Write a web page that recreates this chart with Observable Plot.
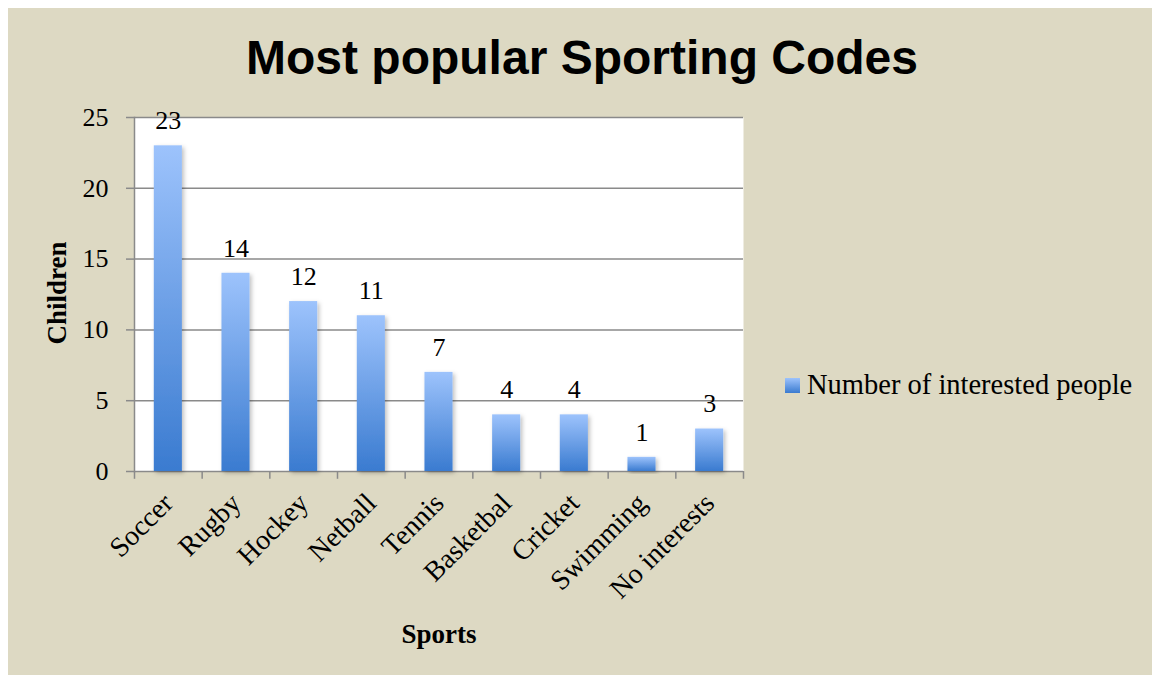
<!DOCTYPE html>
<html>
<head>
<meta charset="utf-8">
<script src="https://cdn.jsdelivr.net/npm/d3@7"></script>
<script src="https://cdn.jsdelivr.net/npm/@observablehq/plot@0.6"></script>
<style>
  html, body { margin: 0; padding: 0; background: #ffffff; }
  #chart { position: absolute; left: 8px; top: 8px; width: 1144px; height: 667px; background: #ddd9c3; overflow: hidden; }
  #title { font-family: "Liberation Sans", Arial, sans-serif; font-weight: bold; font-size: 48px; line-height: 48px; height: 48px; padding-top: 26px; text-align: center; width: 1144px; padding-left: 2px; box-sizing: content-box; margin-left: 0; color: #000; }
  #plot svg { display: block; }
  .axlabel { position: absolute; font-family: "Liberation Serif", "Times New Roman", serif; font-weight: bold; font-size: 27px; color: #000; white-space: nowrap; }
  #ylab { left: 49px; top: 285px; transform: translate(-50%, -50%) rotate(-90deg); }
  #xlab { left: 431px; top: 611px; transform: translateX(-50%); }
  #legend { position: absolute; left: 777px; top: 361px; display: flex; align-items: center; font-family: "Liberation Serif", "Times New Roman", serif; font-size: 28.5px; color: #000; white-space: nowrap; }
  #legend .sw { width: 15px; height: 15px; background: linear-gradient(#9dc3fc, #3a7bd0); margin-right: 7px; }
</style>
</head>
<body>
<div id="chart">
  <div id="title">Most popular Sporting Codes</div>
  <div id="plot"></div>
  <div class="axlabel" id="ylab">Children</div>
  <div class="axlabel" id="xlab">Sports</div>
  <div id="legend"><div class="sw"></div><span id="legtext"></span></div>
</div>
<script>
const categories = ["Soccer", "Rugby", "Hockey", "Netball", "Tennis", "Basketbal", "Cricket", "Swimming", "No interests"];
const values = [23, 14, 12, 11, 7, 4, 4, 1, 3];
const yTicks = [0, 5, 10, 15, 20, 25];
const seriesName = "Number of interested people";

const data = categories.map((c, i) => ({sport: c, count: values[i]}));
document.getElementById("legtext").textContent = seriesName;

const W = 1144, H = 593;
const mL = 126, mR = 409, mT = 35, mB = 204;
const step = (W - mL - mR) / categories.length;
const serif = "Liberation Serif, Times New Roman, serif";

const chart = Plot.plot({
  width: W,
  height: H,
  marginLeft: mL,
  marginRight: mR,
  marginTop: mT,
  marginBottom: mB,
  style: {background: "transparent", fontFamily: serif, color: "#000"},
  x: {domain: categories, paddingInner: 0.585, paddingOuter: 0.2925, round: false, label: null},
  y: {domain: [0, 25], label: null},
  marks: [
    Plot.frame({fill: "white", stroke: null}),
    Plot.gridY(yTicks, {stroke: "#8a8a8a", strokeOpacity: 1, strokeWidth: 1.5}),
    Plot.frame({anchor: "left", stroke: "#8a8a8a", strokeWidth: 1.5}),
    Plot.axisY(yTicks, {tickSize: 8, tickPadding: 18, stroke: "#8a8a8a", strokeWidth: 1.5, fontSize: 26, label: null}),
    Plot.ruleX(categories, {x: d => d, y1: 0, y2: -0.55, dx: -step / 2, stroke: "#8a8a8a", strokeWidth: 1.5}),
    Plot.ruleX(categories.slice(-1), {x: d => d, y1: 0, y2: -0.55, dx: step / 2, stroke: "#8a8a8a", strokeWidth: 1.5}),
    Plot.barY(data, {x: "sport", y: "count", fill: "url(#barGrad)"}),
    Plot.text(data, {x: "sport", y: "count", text: d => String(d.count), dy: -25, fontSize: 26, fill: "#000"}),
    Plot.axisX({tickSize: 0, tickRotate: -45, tickPadding: 27, fontSize: 28, label: null})
  ]
});

// gradient + soft shadow definitions
const svg = d3.select(chart);
const defs = svg.insert("defs", ":first-child");
const g = defs.append("linearGradient").attr("id", "barGrad").attr("x1", 0).attr("y1", 0).attr("x2", 0).attr("y2", 1);
g.append("stop").attr("offset", "0%").attr("stop-color", "#9dc3fc");
g.append("stop").attr("offset", "100%").attr("stop-color", "#3a7bd0");
const f = defs.append("filter").attr("id", "barShadow").attr("x", "-30%").attr("y", "-10%").attr("width", "160%").attr("height", "130%");
f.append("feDropShadow").attr("dx", 2).attr("dy", 2).attr("stdDeviation", 2).attr("flood-color", "#000").attr("flood-opacity", 0.25);
svg.selectAll("rect").filter(function() { return this.getAttribute("fill") === "url(#barGrad)" || (this.parentNode && this.parentNode.getAttribute("fill") === "url(#barGrad)"); }).attr("filter", "url(#barShadow)");

document.getElementById("plot").appendChild(chart);
</script>
</body>
</html>
